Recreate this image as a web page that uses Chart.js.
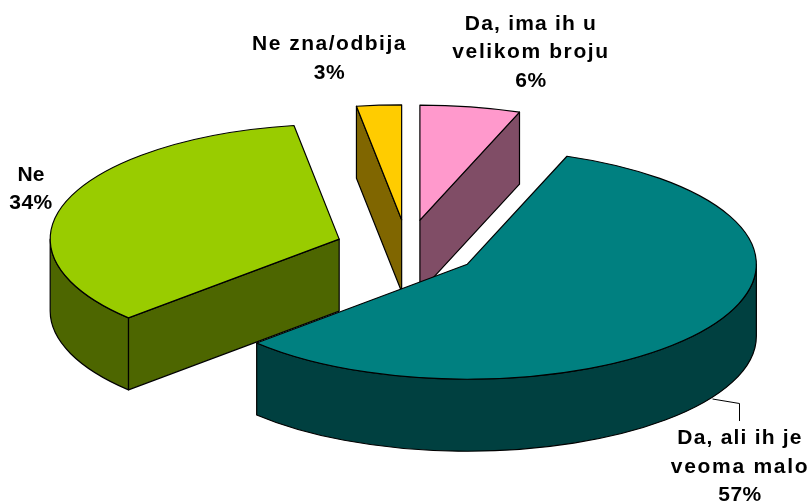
<!DOCTYPE html>
<html><head><meta charset="utf-8">
<style>html,body{margin:0;padding:0;background:#fff}#w{width:812px;height:504px}</style>
<script src="https://cdn.jsdelivr.net/npm/chart.js@4/dist/chart.umd.min.js"></script>
</head><body><div id="w"><canvas id="c"></canvas></div>
<script>
const categories = ['Da, ima ih u velikom broju', 'Da, ali ih je veoma malo', 'Ne', 'Ne zna/odbija'];
const values = [5.6, 57.4, 34.5, 2.5];
const shownPercent = [6, 57, 34, 3];
const topColors = ['#FF99CC', '#008080', '#99CC00', '#FFCC00'];
const sideColors = ['#804D66', '#004040', '#4D6600', '#806600'];
const labelLines = [['Da, ima ih u', 'velikom broju'], ['Da, ali ih je', 'veoma malo'], ['Ne'], ['Ne zna/odbija']];
const labelAnchors = [[531, 24], [740, 438.5], [31, 175], [329.5, 44.5]];
const lineSpacing = [['1.2px', '1.6px'], ['1.2px', '1.7px'], ['0.2px'], ['1.5px']];

const CX = 407.3, CY = 248.4, RX = 289, RATIO = 0.398, EXPLODE = 72, DEPTH = 72;
const FONT = 'bold 21px "Liberation Sans", Arial, sans-serif';
const sy = (a, y) => CY + (y - CY) * RATIO;
const pt = (a, ang, r) => [a.x + Math.cos(ang) * r, sy(a, a.y + Math.sin(ang) * r)];

function wallRadial(ctx, a, ang, color) {
  const p0 = pt(a, ang, 0), p1 = pt(a, ang, a.outerRadius);
  ctx.beginPath();
  ctx.moveTo(p0[0], p0[1]); ctx.lineTo(p1[0], p1[1]);
  ctx.lineTo(p1[0], p1[1] + DEPTH); ctx.lineTo(p0[0], p0[1] + DEPTH);
  ctx.closePath();
  ctx.fillStyle = color; ctx.fill(); ctx.stroke();
}
function wallOuter(ctx, a, from, to, color) {
  const ry = a.outerRadius * RATIO, c = sy(a, a.y);
  ctx.beginPath();
  ctx.ellipse(a.x, c, a.outerRadius, ry, 0, from, to, false);
  ctx.ellipse(a.x, c + DEPTH, a.outerRadius, ry, 0, to, from, true);
  ctx.closePath();
  ctx.fillStyle = color; ctx.fill(); ctx.stroke();
}
const pie3d = {
  id: 'pie3d',
  afterDatasetsUpdate(chart) {
    chart.getDatasetMeta(0).data.forEach(a => {
      const mid = (a.startAngle + a.endAngle) / 2;
      a.x = CX + Math.cos(mid) * EXPLODE;
      a.y = CY + Math.sin(mid) * EXPLODE;
      a.innerRadius = 0;
      a.outerRadius = RX;
    });
  },
  beforeDatasetsDraw(chart) {
    const ctx = chart.ctx, arcs = chart.getDatasetMeta(0).data;
    ctx.save();
    ctx.strokeStyle = '#000'; ctx.lineWidth = 1.2; ctx.lineJoin = 'round';
    const [pink, teal, green, gold] = arcs;
    wallOuter(ctx, green, green.startAngle, Math.PI, sideColors[2]);
    wallRadial(ctx, green, green.startAngle, sideColors[2]);
    wallRadial(ctx, gold, gold.startAngle, sideColors[3]);
    wallRadial(ctx, pink, pink.endAngle, sideColors[0]);
    wallOuter(ctx, teal, 0, teal.endAngle, sideColors[1]);
    ctx.restore();
    ctx.save();
    ctx.translate(0, CY); ctx.scale(1, RATIO); ctx.translate(0, -CY);
  },
  afterDatasetsDraw(chart) {
    const ctx = chart.ctx, arcs = chart.getDatasetMeta(0).data;
    ctx.restore();
    ctx.save();
    ctx.strokeStyle = '#000'; ctx.lineWidth = 1.2; ctx.lineJoin = 'round';
    arcs.forEach(a => {
      const c = pt(a, 0, 0);
      ctx.beginPath();
      ctx.moveTo(c[0], c[1]);
      ctx.ellipse(a.x, sy(a, a.y), a.outerRadius, a.outerRadius * RATIO, 0, a.startAngle, a.endAngle, false);
      ctx.closePath();
      ctx.stroke();
    });
    ctx.beginPath();
    ctx.moveTo(712.5, 399); ctx.lineTo(739.5, 403.5); ctx.lineTo(739.5, 421);
    ctx.lineWidth = 1;
    ctx.stroke();
    ctx.fillStyle = '#000'; ctx.font = FONT; ctx.textAlign = 'center'; ctx.textBaseline = 'middle';
    const LH = 28.6;
    labelLines.forEach((lines, i) => {
      lines.concat(shownPercent[i] + '%').forEach((t, k) => {
        ctx.letterSpacing = k < lines.length ? lineSpacing[i][k] : '0.5px';
        ctx.fillText(t, labelAnchors[i][0], labelAnchors[i][1] + k * LH);
      });
    });
    ctx.restore();
  }
};
new Chart(document.getElementById('c'), {
  type: 'pie',
  data: { labels: categories, datasets: [{ data: values, backgroundColor: topColors, borderWidth: 0, clip: false }] },
  options: {
    responsive: true, maintainAspectRatio: false, animation: false,
    rotation: 0,
    plugins: { legend: { display: false }, tooltip: { enabled: false } },
    events: []
  },
  plugins: [pie3d]
});
</script></body></html>
